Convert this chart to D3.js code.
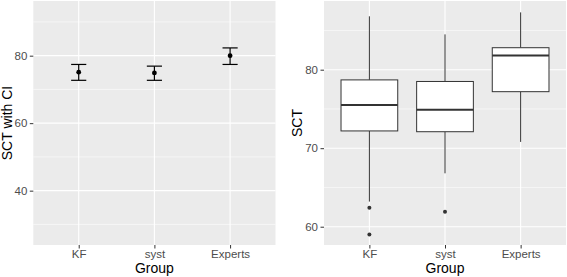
<!DOCTYPE html>
<html>
<head>
<meta charset="utf-8">
<script src="https://cdn.jsdelivr.net/npm/d3@7"></script>
<style>
  body { margin: 0; background: #fff; }
  svg { display: block; font-family: "Liberation Sans", Arial, sans-serif; }
</style>
</head>
<body>
<div id="chart"></div>
<script>
const groups = ['KF', 'syst', 'Experts'];

// left panel: mean with confidence interval
const ciMean = [75.1, 74.9, 80.0];
const ciLow = [72.7, 72.7, 77.4];
const ciHigh = [77.4, 76.9, 82.3];
const ciTicks = [40, 60, 80];
const ciMinor = [30, 50, 70, 90];

// right panel: boxplot summaries
const boxQ1 = [72.2, 72.1, 77.2];
const boxMedian = [75.5, 74.9, 81.8];
const boxQ3 = [78.7, 78.5, 82.8];
const whiskerLow = [63.2, 66.8, 70.8];
const whiskerHigh = [86.8, 84.5, 87.3];
const outliers = [[62.4, 59.0], [61.9], []];
const boxTicks = [60, 70, 80];
const boxMinor = [65, 75, 85];

const width = 567;
const height = 277;

const svg = d3.select('#chart')
    .append('svg')
    .attr('width', width)
    .attr('height', height);

function drawPanel(opts) {
  const g = svg.append('g');
  const x = d3.scalePoint()
      .domain(groups)
      .range([opts.left, opts.right])
      .padding(0.6);
  const y = d3.scaleLinear()
      .domain(opts.domain)
      .range([opts.bottom, opts.top]);

  g.append('rect')
      .attr('x', opts.left)
      .attr('y', opts.top)
      .attr('width', opts.right - opts.left)
      .attr('height', opts.bottom - opts.top)
      .attr('fill', '#ebebeb');

  g.selectAll('.minor')
      .data(opts.minor)
      .enter()
      .append('line')
      .attr('x1', opts.left)
      .attr('x2', opts.right)
      .attr('y1', (d) => y(d))
      .attr('y2', (d) => y(d))
      .attr('stroke', '#fff')
      .attr('stroke-width', 0.55);

  g.selectAll('.major')
      .data(opts.ticks)
      .enter()
      .append('line')
      .attr('x1', opts.left)
      .attr('x2', opts.right)
      .attr('y1', (d) => y(d))
      .attr('y2', (d) => y(d))
      .attr('stroke', '#fff')
      .attr('stroke-width', 1.1);

  g.selectAll('.vgrid')
      .data(groups)
      .enter()
      .append('line')
      .attr('x1', (d) => x(d))
      .attr('x2', (d) => x(d))
      .attr('y1', opts.top)
      .attr('y2', opts.bottom)
      .attr('stroke', '#fff')
      .attr('stroke-width', 1.1);

  // axes
  const yAxis = g.append('g')
      .attr('transform', 'translate(' + opts.left + ',0)')
      .call(d3.axisLeft(y).tickValues(opts.ticks).tickSize(3.5).tickPadding(2.5));
  const xAxis = g.append('g')
      .attr('transform', 'translate(0,' + opts.bottom + ')')
      .call(d3.axisBottom(x).tickSize(3.5).tickPadding(1.5));
  [yAxis, xAxis].forEach(function(a) {
    a.select('.domain').remove();
    a.selectAll('.tick line').attr('stroke', '#333').attr('stroke-width', 1);
    a.selectAll('.tick text')
        .attr('fill', '#4d4d4d')
        .style('font-size', '11.5px')
        .style('font-family', '"Liberation Sans", Arial, sans-serif');
  });

  g.append('text')
      .attr('x', (opts.left + opts.right) / 2)
      .attr('y', 273)
      .attr('text-anchor', 'middle')
      .style('font-size', '14px')
      .text('Group');

  g.append('text')
      .attr('transform', 'translate(' + opts.titleX + ',' +
        ((opts.top + opts.bottom) / 2) + ') rotate(-90)')
      .attr('text-anchor', 'middle')
      .style('font-size', '14px')
      .text(opts.yTitle);

  return {g: g, x: x, y: y};
}

// left panel
const left = drawPanel({
  left: 33.3, right: 275.5, top: 1, bottom: 245,
  domain: [23.9, 96.2], ticks: ciTicks, minor: ciMinor,
  yTitle: 'SCT with CI', titleX: 11.5
});

const capHalf = 0.1 * left.x.step();
groups.forEach(function(grp, i) {
  const cx = left.x(grp);
  const eb = left.g.append('g')
      .attr('stroke', '#000')
      .attr('stroke-width', 1.2);
  eb.append('line')
      .attr('x1', cx).attr('x2', cx)
      .attr('y1', left.y(ciLow[i])).attr('y2', left.y(ciHigh[i]));
  eb.append('line')
      .attr('x1', cx - capHalf).attr('x2', cx + capHalf)
      .attr('y1', left.y(ciLow[i])).attr('y2', left.y(ciLow[i]));
  eb.append('line')
      .attr('x1', cx - capHalf).attr('x2', cx + capHalf)
      .attr('y1', left.y(ciHigh[i])).attr('y2', left.y(ciHigh[i]));
  left.g.append('circle')
      .attr('cx', cx)
      .attr('cy', left.y(ciMean[i]))
      .attr('r', 2.4)
      .attr('fill', '#000');
});

// right panel
const right = drawPanel({
  left: 324, right: 566, top: 1, bottom: 245,
  domain: [57.67, 88.75], ticks: boxTicks, minor: boxMinor,
  yTitle: 'SCT', titleX: 302
});

const boxHalf = 0.375 * right.x.step();
groups.forEach(function(grp, i) {
  const cx = right.x(grp);
  const y = right.y;
  const b = right.g.append('g')
      .attr('stroke', '#333')
      .attr('stroke-width', 1);
  b.append('line')
      .attr('x1', cx).attr('x2', cx)
      .attr('y1', y(whiskerHigh[i])).attr('y2', y(boxQ3[i]));
  b.append('line')
      .attr('x1', cx).attr('x2', cx)
      .attr('y1', y(boxQ1[i])).attr('y2', y(whiskerLow[i]));
  b.append('rect')
      .attr('x', cx - boxHalf)
      .attr('y', y(boxQ3[i]))
      .attr('width', boxHalf * 2)
      .attr('height', y(boxQ1[i]) - y(boxQ3[i]))
      .attr('fill', '#fff');
  b.append('line')
      .attr('x1', cx - boxHalf).attr('x2', cx + boxHalf)
      .attr('y1', y(boxMedian[i])).attr('y2', y(boxMedian[i]))
      .attr('stroke-width', 2);
  right.g.selectAll(null)
      .data(outliers[i])
      .enter()
      .append('circle')
      .attr('cx', cx)
      .attr('cy', (d) => y(d))
      .attr('r', 2)
      .attr('fill', '#333');
});
</script>
</body>
</html>
